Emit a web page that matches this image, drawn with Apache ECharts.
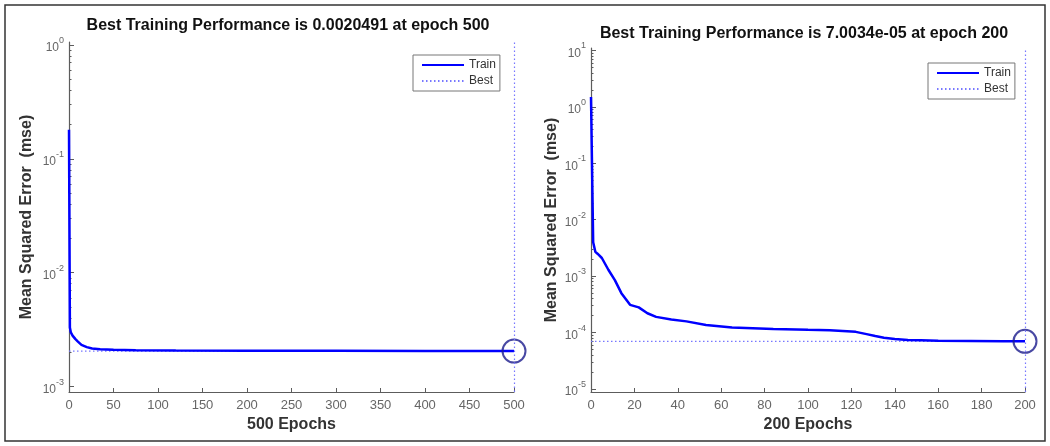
<!DOCTYPE html>
<html>
<head>
<meta charset="utf-8">
<script src="https://cdn.jsdelivr.net/npm/echarts@6/dist/echarts.min.js"></script>
<style>
  html, body { margin: 0; padding: 0; background: #fff; }
  #chart { width: 1050px; height: 446px; }
</style>
</head>
<body>
<div id="chart"></div>
<script>
// ---- Run 1: 500 training epochs ----
const run1Epochs = [0, 1, 2, 4, 7, 10, 14, 20, 26, 35, 50, 75, 120, 200, 300, 400, 500];
const run1Mse = [0.18, 0.0033, 0.0030, 0.0028, 0.00262, 0.00248, 0.00232, 0.00222, 0.00216,
                 0.00213, 0.00210, 0.00208, 0.00207, 0.002065, 0.00206, 0.002055, 0.0020491];
const run1BestEpoch = 500;
const run1BestMse = 0.0020491;
const run1Title = 'Best Training Performance is 0.0020491 at epoch 500';
const run1XLabel = '500 Epochs';
const run1XTicks = [0, 50, 100, 150, 200, 250, 300, 350, 400, 450, 500];
const run1YExponents = [-3, -2, -1, 0];

// ---- Run 2: 200 training epochs ----
const run2Epochs = [0, 1, 2, 3, 5, 8, 11, 14, 18, 22, 26, 30, 37, 44, 53, 65, 84, 100, 110,
                    118, 122, 127, 131, 135, 140, 146, 152, 160, 175, 190, 200];
const run2Mse = [1.5, 0.004, 0.0027, 0.0025, 0.0021, 0.0013, 0.00085, 0.0005, 0.00031, 0.00028,
                 0.00022, 0.00019, 0.00017, 0.000158, 0.000136, 0.000123, 0.000116, 0.000112,
                 0.00011, 0.000106, 0.000103, 0.000094, 0.000087, 0.000081, 0.000077, 0.000074,
                 0.000073, 0.0000715, 0.0000708, 0.0000702, 7.0034e-5];
const run2BestEpoch = 200;
const run2BestMse = 7.0034e-5;
const run2Title = 'Best Training Performance is 7.0034e-05 at epoch 200';
const run2XLabel = '200 Epochs';
const run2XTicks = [0, 20, 40, 60, 80, 100, 120, 140, 160, 180, 200];
const run2YExponents = [-5, -4, -3, -2, -1, 0, 1];

const FONT = '"Liberation Sans", Arial, Helvetica, sans-serif';
const AXIS_COLOR = '#5c5c5c';
const LABEL_COLOR = '#666666';
const TRAIN_COLOR = '#0000ff';
const BEST_COLOR = '#7777ff';
const CIRCLE_COLOR = '#1a1a8c';

// log10 positions of the 2..9 minor ticks inside the shown decades
function minorTicks(exps) {
  const out = [];
  for (let i = 0; i < exps.length - 1; i++) {
    for (let k = 2; k <= 9; k++) out.push(exps[i] + Math.log10(k));
  }
  return out;
}

function pairs(xs, ys) {
  return xs.map((x, i) => [x, Math.log10(ys[i])]);
}

function xAxisFor(grid, ticks, name) {
  return {
    gridIndex: grid, type: 'value',
    min: ticks[0], max: ticks[ticks.length - 1], interval: ticks[1] - ticks[0],
    axisLine: { onZero: false, lineStyle: { color: AXIS_COLOR, width: 1.2 } },
    axisTick: { inside: true, length: 4, lineStyle: { color: AXIS_COLOR } },
    axisLabel: { color: LABEL_COLOR, fontSize: 13, margin: 7, fontFamily: FONT },
    splitLine: { show: false },
    name: name, nameLocation: 'middle', nameGap: 25,
    nameTextStyle: { fontWeight: 'bold', fontSize: 16, color: '#333', fontFamily: FONT }
  };
}

function yAxisFor(grid, range, exps, nameGap) {
  return {
    gridIndex: grid, type: 'value', position: 'left',
    min: range[0], max: range[1],
    axisLine: { show: true, onZero: false, lineStyle: { color: AXIS_COLOR, width: 1.2 } },
    axisTick: { show: true, inside: true, length: 5, customValues: exps,
                lineStyle: { color: AXIS_COLOR } },
    axisLabel: {
      customValues: exps, margin: 5,
      formatter: v => '{b|10}{s|' + Math.round(v) + '}',
      rich: {
        b: { fontSize: 12, color: LABEL_COLOR, fontFamily: FONT, padding: [6, 0, 0, 0] },
        s: { fontSize: 9, color: LABEL_COLOR, fontFamily: FONT, verticalAlign: 'top' }
      }
    },
    splitLine: { show: false },
    name: 'Mean Squared Error  (mse)', nameLocation: 'middle', nameGap: nameGap,
    nameTextStyle: { fontWeight: 'bold', fontSize: 16, color: '#333', fontFamily: FONT }
  };
}

function minorAxisFor(grid, range, exps) {
  return {
    gridIndex: grid, type: 'value', position: 'left', offset: 0,
    min: range[0], max: range[1],
    axisLine: { show: false, onZero: false },
    axisTick: { show: true, inside: true, length: 2.5, customValues: minorTicks(exps),
                lineStyle: { color: AXIS_COLOR } },
    axisLabel: { show: false },
    splitLine: { show: false }
  };
}

function seriesFor(axisIdx, epochs, mse, bestEpoch, bestMse) {
  const bestLog = Math.log10(bestMse);
  const dotted = { color: BEST_COLOR, width: 1.2, type: [1.5, 2.5] };
  return [
    {
      name: 'Train', type: 'line', xAxisIndex: axisIdx, yAxisIndex: axisIdx * 2,
      data: pairs(epochs, mse), symbol: 'none', color: TRAIN_COLOR,
      lineStyle: { color: TRAIN_COLOR, width: 2.5 }, z: 3
    },
    {
      name: 'Best', type: 'line', xAxisIndex: axisIdx, yAxisIndex: axisIdx * 2,
      data: [[epochs[0], bestLog], [bestEpoch, bestLog]], symbol: 'none', color: BEST_COLOR,
      lineStyle: dotted, z: 2,
      markLine: {
        silent: true, symbol: ['none', 'none'], label: { show: false },
        lineStyle: dotted, data: [{ xAxis: bestEpoch }]
      }
    },
    {
      type: 'scatter', xAxisIndex: axisIdx, yAxisIndex: axisIdx * 2,
      data: [[bestEpoch, bestLog]], symbol: 'circle', symbolSize: 23,
      itemStyle: { color: 'rgba(0,0,0,0)', borderColor: CIRCLE_COLOR, borderWidth: 2 }, z: 4
    }
  ];
}

function legendFor(left, top) {
  return {
    left: left, top: top, orient: 'vertical', data: ['Train', 'Best'],
    selectedMode: false, itemWidth: 42, itemHeight: 12, itemGap: 4,
    padding: [4, 4, 4, 8], borderColor: '#777', borderWidth: 1,
    itemStyle: { opacity: 0 },
    textStyle: { fontSize: 12, color: '#333', fontFamily: FONT, width: 30, align: 'right' }
  };
}

const run1Range = [-3.048, 0.026];
const run2Range = [-5.053, 1.044];

const chart = echarts.init(document.getElementById('chart'), null, { renderer: 'canvas' });
chart.setOption({
  animation: false,
  backgroundColor: '#fff',
  textStyle: { fontFamily: FONT },
  grid: [
    { left: 69, top: 42, width: 445, height: 350 },
    { left: 591, top: 48, width: 434, height: 344 }
  ],
  xAxis: [
    xAxisFor(0, run1XTicks, run1XLabel),
    xAxisFor(1, run2XTicks, run2XLabel)
  ],
  yAxis: [
    yAxisFor(0, run1Range, run1YExponents, 34),
    minorAxisFor(0, run1Range, run1YExponents),
    yAxisFor(1, run2Range, run2YExponents, 31),
    minorAxisFor(1, run2Range, run2YExponents)
  ],
  legend: [legendFor(413, 55), legendFor(928, 63)],
  series: [].concat(
    seriesFor(0, run1Epochs, run1Mse, run1BestEpoch, run1BestMse),
    seriesFor(1, run2Epochs, run2Mse, run2BestEpoch, run2BestMse)
  ),
  graphic: [
    {
      type: 'rect', silent: true,
      shape: { x: 5, y: 5, width: 1040, height: 436 },
      style: { fill: null, stroke: '#333', lineWidth: 1.5 }
    },
    {
      type: 'text', x: 288, y: 26, silent: true,
      style: { text: run1Title, fontSize: 16, fontWeight: 'bold', fill: '#111',
               fontFamily: FONT, align: 'center', verticalAlign: 'middle' }
    },
    {
      type: 'text', x: 804, y: 34, silent: true,
      style: { text: run2Title, fontSize: 16, fontWeight: 'bold', fill: '#111',
               fontFamily: FONT, align: 'center', verticalAlign: 'middle' }
    }
  ]
});
</script>
</body>
</html>
